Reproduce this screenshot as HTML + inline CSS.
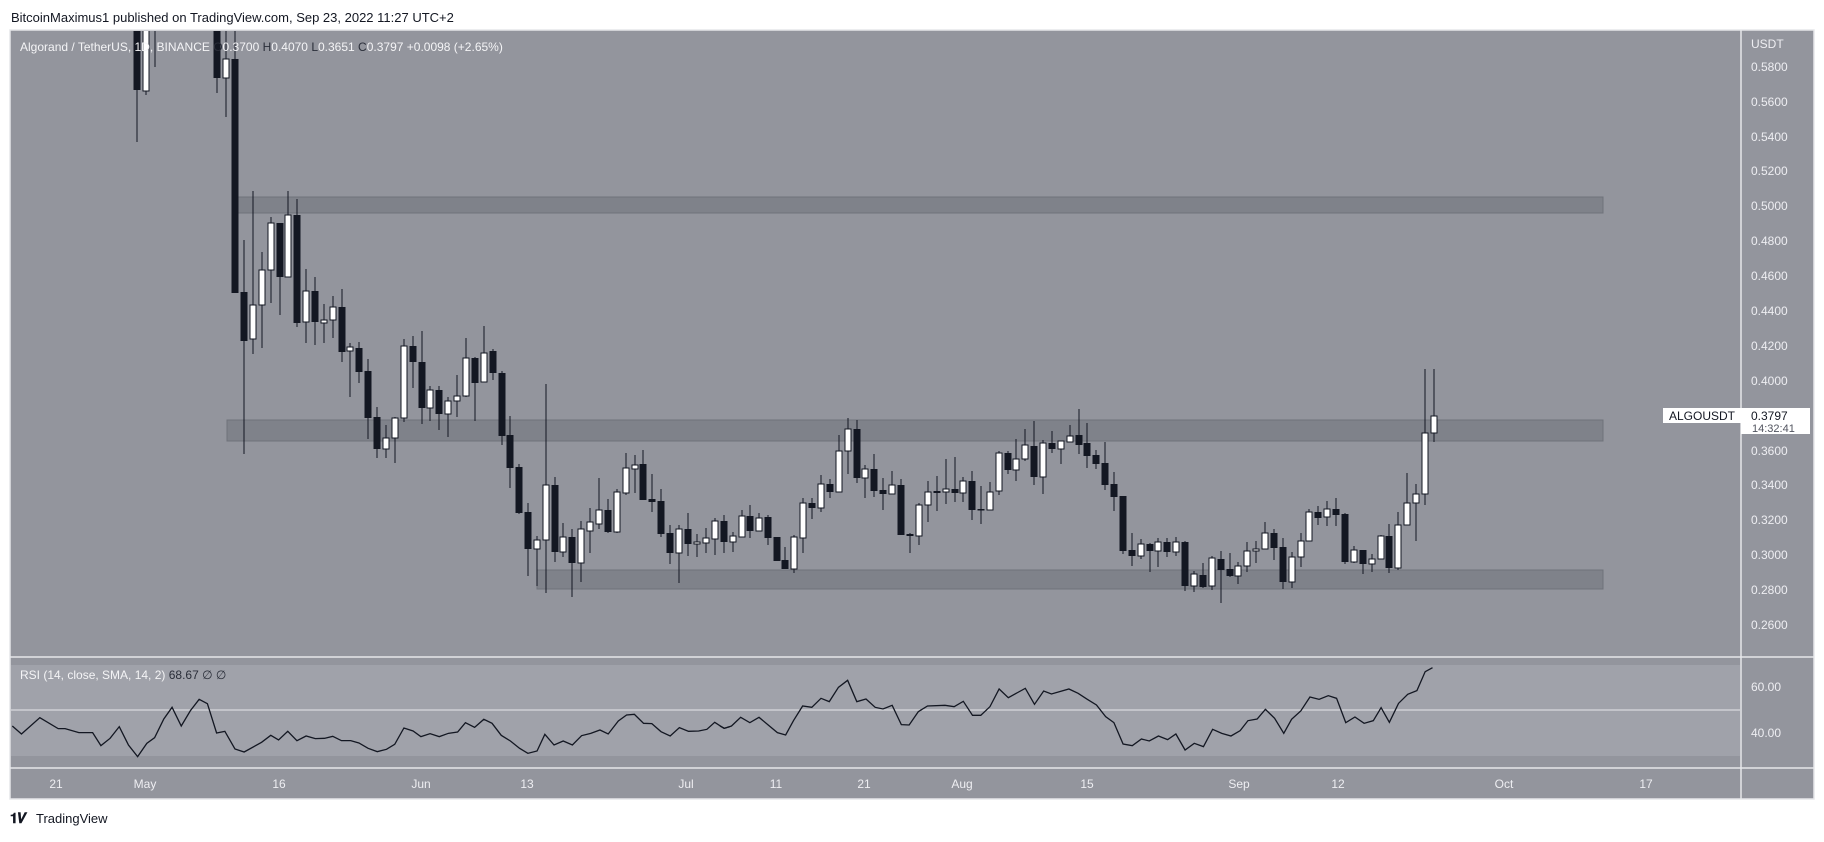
<!DOCTYPE html>
<html><head><meta charset="utf-8"><style>
body{margin:0;background:#fff;width:1824px;height:837px;overflow:hidden;font-family:"Liberation Sans",sans-serif}
svg text{font-family:"Liberation Sans",sans-serif}
.d{fill:#131722}
.w{fill:#fff;stroke:#131722;stroke-width:1}
.k line{stroke:#131722;stroke-width:1}
</style></head><body>
<svg width="1824" height="837" xmlns="http://www.w3.org/2000/svg">
<defs><clipPath id="cp"><rect x="12" y="31" width="1729" height="626"/></clipPath>
<clipPath id="cr"><rect x="12" y="658" width="1729" height="110"/></clipPath></defs>
<text x="11" y="22" font-size="13" fill="#131722">BitcoinMaximus1 published on TradingView.com, Sep 23, 2022 11:27 UTC+2</text>
<rect x="10" y="30" width="1804" height="769" fill="#93959d" stroke="#e6e7ea" stroke-width="1.5"/>
<line x1="1741" y1="30" x2="1741" y2="799" stroke="#e6e7ea" stroke-width="1.5"/>
<line x1="10" y1="657" x2="1814" y2="657" stroke="#e6e7ea" stroke-width="1.5"/>
<line x1="10" y1="768" x2="1814" y2="768" stroke="#e6e7ea" stroke-width="1.5"/>
<rect x="11" y="665" width="1729" height="91" fill="#a0a2aa"/>
<line x1="11" y1="710" x2="1740" y2="710" stroke="#e6e7ea" stroke-width="1"/>
<g fill="#7f828a" stroke="#6f727a" stroke-width="1">
<rect x="238" y="197" width="1365" height="16"/>
<rect x="227" y="420" width="1376" height="21"/>
<rect x="537" y="570" width="1066" height="19"/>
</g>
<g class="k" clip-path="url(#cp)">
<line x1="137" y1="30" x2="137" y2="142"/><rect class="d" x="133.5" y="30" width="7" height="60"/>
<line x1="146" y1="30" x2="146" y2="95"/><rect class="w" x="143" y="30" width="6" height="61"/>
<line x1="155" y1="30" x2="155" y2="67"/>
<line x1="217" y1="30" x2="217" y2="93"/><rect class="d" x="213.5" y="30" width="7" height="48"/>
<line x1="226" y1="30" x2="226" y2="117"/><rect class="w" x="223" y="59" width="6" height="19"/>
<line x1="235" y1="30" x2="235" y2="293"/><rect class="d" x="231.5" y="59" width="7" height="234"/>
<line x1="244" y1="240" x2="244" y2="454"/><rect class="d" x="240.5" y="292" width="7" height="49"/>
<line x1="253" y1="191" x2="253" y2="354"/><rect class="w" x="250" y="305" width="6" height="34"/>
<line x1="262" y1="252" x2="262" y2="348"/><rect class="w" x="259" y="270" width="6" height="35"/>
<line x1="271" y1="217" x2="271" y2="303"/><rect class="w" x="268" y="223" width="6" height="47"/>
<line x1="280" y1="223" x2="280" y2="315"/><rect class="d" x="276.5" y="223" width="7" height="54"/>
<line x1="288" y1="191" x2="288" y2="277"/><rect class="w" x="285" y="215" width="6" height="62"/>
<line x1="297" y1="199" x2="297" y2="327"/><rect class="d" x="293.5" y="215" width="7" height="108"/>
<line x1="306" y1="269" x2="306" y2="343"/><rect class="w" x="303" y="291" width="6" height="31"/>
<line x1="315" y1="277" x2="315" y2="345"/><rect class="d" x="311.5" y="291" width="7" height="31"/>
<line x1="324" y1="304" x2="324" y2="343"/><rect class="w" x="321" y="320" width="6" height="3"/>
<line x1="333" y1="296" x2="333" y2="338"/><rect class="w" x="330" y="307" width="6" height="13"/>
<line x1="342" y1="289" x2="342" y2="362"/><rect class="d" x="338.5" y="307" width="7" height="45"/>
<line x1="350" y1="343" x2="350" y2="397"/><rect class="w" x="347" y="347" width="6" height="4"/>
<line x1="359" y1="342" x2="359" y2="383"/><rect class="d" x="355.5" y="348" width="7" height="24"/>
<line x1="368" y1="359" x2="368" y2="439"/><rect class="d" x="364.5" y="371" width="7" height="47"/>
<line x1="377" y1="407" x2="377" y2="458"/><rect class="d" x="373.5" y="417" width="7" height="32"/>
<line x1="386" y1="425" x2="386" y2="458"/><rect class="w" x="383" y="438" width="6" height="11"/>
<line x1="395" y1="417" x2="395" y2="463"/><rect class="w" x="392" y="418" width="6" height="20"/>
<line x1="404" y1="339" x2="404" y2="422"/><rect class="w" x="401" y="346" width="6" height="72"/>
<line x1="413" y1="336" x2="413" y2="388"/><rect class="d" x="409.5" y="346" width="7" height="16"/>
<line x1="422" y1="331" x2="422" y2="424"/><rect class="d" x="418.5" y="362" width="7" height="46"/>
<line x1="430" y1="386" x2="430" y2="421"/><rect class="w" x="427" y="390" width="6" height="18"/>
<line x1="439" y1="386" x2="439" y2="430"/><rect class="d" x="435.5" y="390" width="7" height="24"/>
<line x1="448" y1="397" x2="448" y2="437"/><rect class="w" x="445" y="401" width="6" height="13"/>
<line x1="457" y1="375" x2="457" y2="417"/><rect class="w" x="454" y="396" width="6" height="5"/>
<line x1="466" y1="338" x2="466" y2="397"/><rect class="w" x="463" y="358" width="6" height="38"/>
<line x1="475" y1="357" x2="475" y2="421"/><rect class="d" x="471.5" y="358" width="7" height="25"/>
<line x1="484" y1="326" x2="484" y2="382"/><rect class="w" x="481" y="353" width="6" height="29"/>
<line x1="493" y1="349" x2="493" y2="380"/><rect class="d" x="489.5" y="351" width="7" height="22"/>
<line x1="502" y1="371" x2="502" y2="445"/><rect class="d" x="498.5" y="373" width="7" height="63"/>
<line x1="510" y1="416" x2="510" y2="488"/><rect class="d" x="506.5" y="435" width="7" height="33"/>
<line x1="519" y1="464" x2="519" y2="514"/><rect class="d" x="515.5" y="467" width="7" height="46"/>
<line x1="528" y1="503" x2="528" y2="576"/><rect class="d" x="524.5" y="512" width="7" height="37"/>
<line x1="537" y1="536" x2="537" y2="586"/><rect class="w" x="534" y="540" width="6" height="9"/>
<line x1="546" y1="384" x2="546" y2="593"/><rect class="w" x="543" y="485" width="6" height="55"/>
<line x1="555" y1="477" x2="555" y2="562"/><rect class="d" x="551.5" y="485" width="7" height="67"/>
<line x1="563" y1="523" x2="563" y2="557"/><rect class="w" x="560" y="537" width="6" height="15"/>
<line x1="572" y1="529" x2="572" y2="597"/><rect class="d" x="568.5" y="537" width="7" height="26"/>
<line x1="581" y1="521" x2="581" y2="582"/><rect class="w" x="578" y="529" width="6" height="34"/>
<line x1="590" y1="508" x2="590" y2="553"/><rect class="w" x="587" y="522" width="6" height="9"/>
<line x1="599" y1="478" x2="599" y2="529"/><rect class="w" x="596" y="510" width="6" height="14"/>
<line x1="608" y1="499" x2="608" y2="533"/><rect class="d" x="604.5" y="510" width="7" height="22"/>
<line x1="617" y1="489" x2="617" y2="533"/><rect class="w" x="614" y="492" width="6" height="40"/>
<line x1="626" y1="453" x2="626" y2="495"/><rect class="w" x="623" y="468" width="6" height="25"/>
<line x1="635" y1="455" x2="635" y2="493"/><rect class="w" x="632" y="465" width="6" height="4"/>
<line x1="643" y1="450" x2="643" y2="500"/><rect class="d" x="639.5" y="464" width="7" height="36"/>
<line x1="652" y1="474" x2="652" y2="512"/><rect class="d" x="648.5" y="499" width="7" height="3"/>
<line x1="661" y1="489" x2="661" y2="537"/><rect class="d" x="657.5" y="501" width="7" height="33"/>
<line x1="670" y1="525" x2="670" y2="564"/><rect class="d" x="666.5" y="533" width="7" height="20"/>
<line x1="679" y1="525" x2="679" y2="583"/><rect class="w" x="676" y="529" width="6" height="24"/>
<line x1="688" y1="513" x2="688" y2="556"/><rect class="d" x="684.5" y="529" width="7" height="15"/>
<line x1="697" y1="534" x2="697" y2="557"/><rect class="w" x="694" y="542" width="6" height="2"/>
<line x1="706" y1="528" x2="706" y2="553"/><rect class="w" x="703" y="538" width="6" height="5"/>
<line x1="715" y1="518" x2="715" y2="555"/><rect class="w" x="712" y="521" width="6" height="18"/>
<line x1="724" y1="515" x2="724" y2="553"/><rect class="d" x="720.5" y="521" width="7" height="21"/>
<line x1="733" y1="532" x2="733" y2="552"/><rect class="w" x="730" y="536" width="6" height="6"/>
<line x1="742" y1="510" x2="742" y2="537"/><rect class="w" x="739" y="516" width="6" height="21"/>
<line x1="750" y1="505" x2="750" y2="538"/><rect class="d" x="746.5" y="516" width="7" height="15"/>
<line x1="759" y1="513" x2="759" y2="531"/><rect class="w" x="756" y="518" width="6" height="13"/>
<line x1="768" y1="515" x2="768" y2="545"/><rect class="d" x="764.5" y="517" width="7" height="21"/>
<line x1="777" y1="537" x2="777" y2="561"/><rect class="d" x="773.5" y="537" width="7" height="24"/>
<line x1="785" y1="547" x2="785" y2="569"/><rect class="d" x="781.5" y="560" width="7" height="9"/>
<line x1="794" y1="535" x2="794" y2="573"/><rect class="w" x="791" y="537" width="6" height="32"/>
<line x1="803" y1="498" x2="803" y2="553"/><rect class="w" x="800" y="503" width="6" height="35"/>
<line x1="812" y1="498" x2="812" y2="519"/><rect class="d" x="808.5" y="503" width="7" height="5"/>
<line x1="821" y1="475" x2="821" y2="512"/><rect class="w" x="818" y="484" width="6" height="24"/>
<line x1="830" y1="479" x2="830" y2="498"/><rect class="d" x="826.5" y="484" width="7" height="8"/>
<line x1="839" y1="435" x2="839" y2="492"/><rect class="w" x="836" y="451" width="6" height="41"/>
<line x1="848" y1="418" x2="848" y2="474"/><rect class="w" x="845" y="429" width="6" height="22"/>
<line x1="857" y1="420" x2="857" y2="483"/><rect class="d" x="853.5" y="429" width="7" height="49"/>
<line x1="865" y1="465" x2="865" y2="498"/><rect class="w" x="862" y="469" width="6" height="9"/>
<line x1="874" y1="454" x2="874" y2="497"/><rect class="d" x="870.5" y="469" width="7" height="22"/>
<line x1="883" y1="478" x2="883" y2="510"/><rect class="d" x="879.5" y="490" width="7" height="4"/>
<line x1="892" y1="471" x2="892" y2="494"/><rect class="w" x="889" y="485" width="6" height="9"/>
<line x1="901" y1="479" x2="901" y2="535"/><rect class="d" x="897.5" y="485" width="7" height="50"/>
<line x1="910" y1="533" x2="910" y2="553"/><rect class="d" x="906.5" y="534" width="7" height="2"/>
<line x1="919" y1="503" x2="919" y2="545"/><rect class="w" x="916" y="505" width="6" height="31"/>
<line x1="928" y1="481" x2="928" y2="522"/><rect class="w" x="925" y="492" width="6" height="13"/>
<line x1="937" y1="476" x2="937" y2="511"/><rect class="d" x="933.5" y="491" width="7" height="2"/>
<line x1="946" y1="459" x2="946" y2="504"/><rect class="w" x="943" y="489" width="6" height="3"/>
<line x1="955" y1="457" x2="955" y2="502"/><rect class="d" x="951.5" y="489" width="7" height="4"/>
<line x1="963" y1="477" x2="963" y2="502"/><rect class="w" x="960" y="481" width="6" height="12"/>
<line x1="972" y1="471" x2="972" y2="520"/><rect class="d" x="968.5" y="481" width="7" height="29"/>
<line x1="981" y1="486" x2="981" y2="524"/><rect class="d" x="977.5" y="509" width="7" height="1.5"/>
<line x1="990" y1="482" x2="990" y2="510"/><rect class="w" x="987" y="492" width="6" height="18"/>
<line x1="999" y1="451" x2="999" y2="495"/><rect class="w" x="996" y="453" width="6" height="38"/>
<line x1="1008" y1="451" x2="1008" y2="474"/><rect class="d" x="1004.5" y="453" width="7" height="17"/>
<line x1="1016" y1="439" x2="1016" y2="481"/><rect class="w" x="1013" y="459" width="6" height="11"/>
<line x1="1025" y1="429" x2="1025" y2="461"/><rect class="w" x="1022" y="445" width="6" height="14"/>
<line x1="1034" y1="421" x2="1034" y2="485"/><rect class="d" x="1030.5" y="446" width="7" height="31"/>
<line x1="1043" y1="440" x2="1043" y2="494"/><rect class="w" x="1040" y="443" width="6" height="34"/>
<line x1="1052" y1="431" x2="1052" y2="453"/><rect class="d" x="1048.5" y="443" width="7" height="6"/>
<line x1="1061" y1="441" x2="1061" y2="464"/><rect class="w" x="1058" y="441" width="6" height="8"/>
<line x1="1070" y1="425" x2="1070" y2="442"/><rect class="w" x="1067" y="436" width="6" height="6"/>
<line x1="1079" y1="409" x2="1079" y2="454"/><rect class="d" x="1075.5" y="435" width="7" height="10"/>
<line x1="1087" y1="423" x2="1087" y2="468"/><rect class="d" x="1083.5" y="443" width="7" height="13"/>
<line x1="1096" y1="450" x2="1096" y2="469"/><rect class="d" x="1092.5" y="455" width="7" height="9"/>
<line x1="1105" y1="442" x2="1105" y2="490"/><rect class="d" x="1101.5" y="463" width="7" height="22"/>
<line x1="1114" y1="472" x2="1114" y2="511"/><rect class="d" x="1110.5" y="484" width="7" height="13"/>
<line x1="1123" y1="496" x2="1123" y2="554"/><rect class="d" x="1119.5" y="496" width="7" height="55"/>
<line x1="1132" y1="533" x2="1132" y2="566"/><rect class="d" x="1128.5" y="550" width="7" height="6"/>
<line x1="1141" y1="539" x2="1141" y2="559"/><rect class="w" x="1138" y="544" width="6" height="12"/>
<line x1="1150" y1="543" x2="1150" y2="572"/><rect class="d" x="1146.5" y="544" width="7" height="7"/>
<line x1="1158" y1="538" x2="1158" y2="567"/><rect class="w" x="1155" y="542" width="6" height="9"/>
<line x1="1167" y1="538" x2="1167" y2="557"/><rect class="d" x="1163.5" y="542" width="7" height="10"/>
<line x1="1176" y1="537" x2="1176" y2="556"/><rect class="w" x="1173" y="542" width="6" height="10"/>
<line x1="1185" y1="541" x2="1185" y2="591"/><rect class="d" x="1181.5" y="542" width="7" height="44"/>
<line x1="1194" y1="571" x2="1194" y2="592"/><rect class="w" x="1191" y="574" width="6" height="12"/>
<line x1="1203" y1="563" x2="1203" y2="588"/><rect class="d" x="1199.5" y="575" width="7" height="12"/>
<line x1="1212" y1="556" x2="1212" y2="590"/><rect class="w" x="1209" y="558" width="6" height="28"/>
<line x1="1221" y1="551" x2="1221" y2="603"/><rect class="d" x="1217.5" y="559" width="7" height="11"/>
<line x1="1230" y1="553" x2="1230" y2="577"/><rect class="d" x="1226.5" y="569" width="7" height="7"/>
<line x1="1238" y1="562" x2="1238" y2="584"/><rect class="w" x="1235" y="566" width="6" height="10"/>
<line x1="1247" y1="542" x2="1247" y2="572"/><rect class="w" x="1244" y="551" width="6" height="15"/>
<line x1="1256" y1="541" x2="1256" y2="563"/><rect class="w" x="1253" y="549" width="6" height="2"/>
<line x1="1265" y1="522" x2="1265" y2="549"/><rect class="w" x="1262" y="533" width="6" height="16"/>
<line x1="1274" y1="529" x2="1274" y2="560"/><rect class="d" x="1270.5" y="533" width="7" height="15"/>
<line x1="1283" y1="538" x2="1283" y2="589"/><rect class="d" x="1279.5" y="547" width="7" height="35"/>
<line x1="1292" y1="552" x2="1292" y2="588"/><rect class="w" x="1289" y="557" width="6" height="25"/>
<line x1="1301" y1="533" x2="1301" y2="567"/><rect class="w" x="1298" y="541" width="6" height="16"/>
<line x1="1309" y1="509" x2="1309" y2="541"/><rect class="w" x="1306" y="512" width="6" height="29"/>
<line x1="1318" y1="506" x2="1318" y2="525"/><rect class="d" x="1314.5" y="512" width="7" height="6"/>
<line x1="1327" y1="501" x2="1327" y2="526"/><rect class="w" x="1324" y="509" width="6" height="8"/>
<line x1="1336" y1="498" x2="1336" y2="526"/><rect class="d" x="1332.5" y="509" width="7" height="6"/>
<line x1="1345" y1="513" x2="1345" y2="564"/><rect class="d" x="1341.5" y="514" width="7" height="48"/>
<line x1="1354" y1="546" x2="1354" y2="563"/><rect class="w" x="1351" y="550" width="6" height="12"/>
<line x1="1363" y1="550" x2="1363" y2="574"/><rect class="d" x="1359.5" y="550" width="7" height="14"/>
<line x1="1372" y1="554" x2="1372" y2="572"/><rect class="w" x="1369" y="559" width="6" height="5"/>
<line x1="1381" y1="535" x2="1381" y2="559"/><rect class="w" x="1378" y="536" width="6" height="23"/>
<line x1="1389" y1="524" x2="1389" y2="573"/><rect class="d" x="1385.5" y="536" width="7" height="32"/>
<line x1="1398" y1="512" x2="1398" y2="570"/><rect class="w" x="1395" y="525" width="6" height="43"/>
<line x1="1407" y1="473" x2="1407" y2="525"/><rect class="w" x="1404" y="503" width="6" height="22"/>
<line x1="1416" y1="484" x2="1416" y2="541"/><rect class="w" x="1413" y="494" width="6" height="9"/>
<line x1="1425" y1="369" x2="1425" y2="505"/><rect class="w" x="1422" y="433" width="6" height="61"/>
<line x1="1434" y1="369" x2="1434" y2="442"/><rect class="w" x="1431" y="416" width="6" height="17"/>
</g>
<g clip-path="url(#cr)" fill="none" stroke="#131722" stroke-width="1.3">
<polyline vector-effect="non-scaling-stroke" transform="translate(10,655) scale(0.4591,0.3333)" points="5,213 25,237 65,188 105,221 120,221 150,233 180,233 198,272 218,250 238,215 258,270 278,305 298,265 315,248 335,192 353,157 373,213 393,167 412,133 430,146 450,234 468,229 490,282 510,291 548,262 568,241 585,255 605,229 625,257 645,243 665,251 685,250 703,244 722,257 742,257 760,264 780,280 800,290 820,283 838,268 858,219 878,228 895,245 915,236 935,245 955,235 975,231 992,203 1012,217 1032,193 1050,205 1070,241 1090,258 1110,280 1128,295 1148,288 1165,238 1185,270 1205,258 1225,270 1245,242 1265,235 1285,225 1303,237 1325,198 1343,180 1360,178 1380,205 1398,206 1418,230 1438,243 1458,218 1478,229 1500,228 1518,223 1535,202 1555,220 1568,215"/>
<polyline vector-effect="non-scaling-stroke" transform="translate(720,655) scale(0.4591,0.3333)" points="0,213 10,220 25,213 45,187 65,203 85,187 105,210 125,233 143,240 160,197 180,153 200,157 220,130 238,140 258,97 278,76 298,140 318,132 338,157 355,162 375,151 395,209 412,210 432,170 452,153 490,151 510,155 530,139 550,181 568,181 588,155 608,102 628,128 665,100 685,148 705,108 722,117 760,102 780,115 800,133 820,150 840,185 858,203 878,267 898,272 918,252 935,258 955,243 975,254 993,237 1013,285 1033,265 1053,275 1073,223 1093,235 1113,243 1133,227 1150,197 1170,192 1188,163 1208,190 1228,235 1245,193 1265,168 1285,126 1305,133 1325,122 1343,130 1363,203 1383,186 1403,205 1423,197 1440,158 1458,202 1478,145 1498,118 1518,107 1536,50 1552,38"/>
</g>
<text x="20" y="51" font-size="12" fill="#f4f4f6">Algorand / TetherUS, 1D, BINANCE  <tspan fill="#2a2e39">O</tspan>0.3700  <tspan fill="#2a2e39">H</tspan>0.4070  <tspan fill="#2a2e39">L</tspan>0.3651  <tspan fill="#2a2e39">C</tspan>0.3797  +0.0098 (+2.65%)</text>
<text x="20" y="679" font-size="12" fill="#f4f4f6">RSI (14, close, SMA, 14, 2)  <tspan fill="#2a2e39">68.67  ∅  ∅</tspan></text>
<g font-size="12" fill="#eeeef2">
<text x="1751" y="48">USDT</text>
<text x="1751" y="71">0.5800</text><text x="1751" y="106">0.5600</text><text x="1751" y="141">0.5400</text>
<text x="1751" y="175">0.5200</text><text x="1751" y="210">0.5000</text><text x="1751" y="245">0.4800</text>
<text x="1751" y="280">0.4600</text><text x="1751" y="315">0.4400</text><text x="1751" y="350">0.4200</text>
<text x="1751" y="385">0.4000</text><text x="1751" y="455">0.3600</text><text x="1751" y="489">0.3400</text>
<text x="1751" y="524">0.3200</text><text x="1751" y="559">0.3000</text><text x="1751" y="594">0.2800</text>
<text x="1751" y="629">0.2600</text>
<text x="1751" y="691">60.00</text><text x="1751" y="737">40.00</text>
</g>
<g font-size="12" fill="#eeeef2" text-anchor="middle">
<text x="56" y="788">21</text><text x="145" y="788">May</text><text x="279" y="788">16</text>
<text x="421" y="788">Jun</text><text x="527" y="788">13</text><text x="686" y="788">Jul</text>
<text x="776" y="788">11</text><text x="864" y="788">21</text><text x="962" y="788">Aug</text>
<text x="1087" y="788">15</text><text x="1239" y="788">Sep</text><text x="1338" y="788">12</text>
<text x="1504" y="788">Oct</text><text x="1646" y="788">17</text>
</g>
<rect x="1663" y="408" width="78" height="15" fill="#fff"/>
<text x="1669" y="420" font-size="12" fill="#131722">ALGOUSDT</text>
<rect x="1741" y="408" width="69" height="26" fill="#fff"/>
<text x="1751" y="420" font-size="12" fill="#131722">0.3797</text>
<text x="1752" y="432" font-size="11" fill="#50535e">14:32:41</text>
<text x="10" y="823" font-size="14" font-weight="bold" fill="#131722">𝟏𝑽</text>
<text x="36" y="823" font-size="13" fill="#131722">TradingView</text>
</svg>
</body></html>
